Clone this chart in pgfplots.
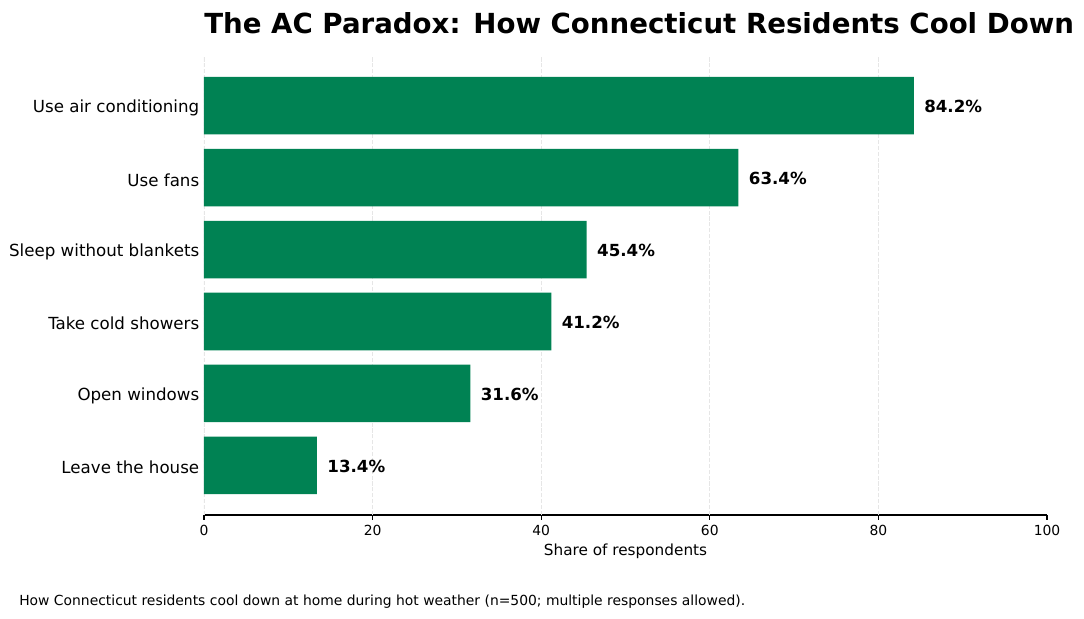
\documentclass[border=0pt]{standalone}
\usepackage{pgfplots}
\pgfplotsset{compat=1.18}
\usepackage{fontspec}
\setmainfont{DejaVu Sans}
\definecolor{bargreen}{RGB}{0,130,83}
\definecolor{gridc}{RGB}{230,230,230}
\begin{document}
\begin{tikzpicture}
\useasboundingbox (-146.88pt,-74.16pt) rectangle (633.6pt,370.8pt);
\begin{axis}[
  at={(0,0)}, anchor=south west,
  scale only axis,
  width=606.96pt, height=330.48pt,
  xbar, bar width=0.8,
  xmin=0, xmax=100,
  ymin=-0.69, ymax=5.69,
  axis x line*=bottom,
  axis y line*=left,
  x axis line style={line width=0.8pt, black, -},
  y axis line style={draw=none},
  xtick={0,20,40,60,80,100},
  xtick pos=bottom,
  tick align=outside,
  major tick length=3.5pt,
  x tick style={line width=0.8pt, black},
  y tick style={draw=none},
  ytick={0,1,2,3,4,5},
  yticklabels={Leave the house,Open windows,Take cold showers,Sleep without blankets,Use fans,Use air conditioning},
  yticklabel style={font=\fontsize{12}{14}\selectfont, xshift=3.6pt, yshift=-1.6pt},
  xticklabel style={font=\fontsize{10}{12}\selectfont},
  /pgf/number format/assume math mode=true,
  point meta=x,
  nodes near coords={\pgfmathprintnumber[fixed,precision=1,fixed zerofill]{\pgfplotspointmeta}\%},
  nodes near coords style={font=\bfseries\fontsize{12}{14}\selectfont, anchor=west, xshift=4pt, yshift=-0.7pt, text=black},
]
\pgfplotsinvokeforeach{0,20,40,60,80}{
  \draw[gridc, line width=0.8pt, dash pattern=on 2.96pt off 1.28pt] (axis cs:#1,-0.69) -- (axis cs:#1,5.69);
}
\addplot[fill=bargreen, draw=none] coordinates {
 (13.4,0) (31.6,1) (41.2,2) (45.4,3) (63.4,4) (84.2,5)};
\end{axis}
\node[font=\bfseries\fontsize{19.9}{24}\selectfont, anchor=base west, inner sep=0pt] at (0pt,346.5pt) {The AC Paradox: How Connecticut Residents Cool Down};
\node[font=\fontsize{11}{13}\selectfont, anchor=center, inner sep=0pt] at (303.48pt,-25.9pt) {Share of respondents};
\node[font=\fontsize{10}{12}\selectfont, anchor=west, inner sep=0pt] at (-133.2pt,-62.64pt) {How Connecticut residents cool down at home during hot weather (n=500; multiple responses allowed).};
\end{tikzpicture}
\end{document}
